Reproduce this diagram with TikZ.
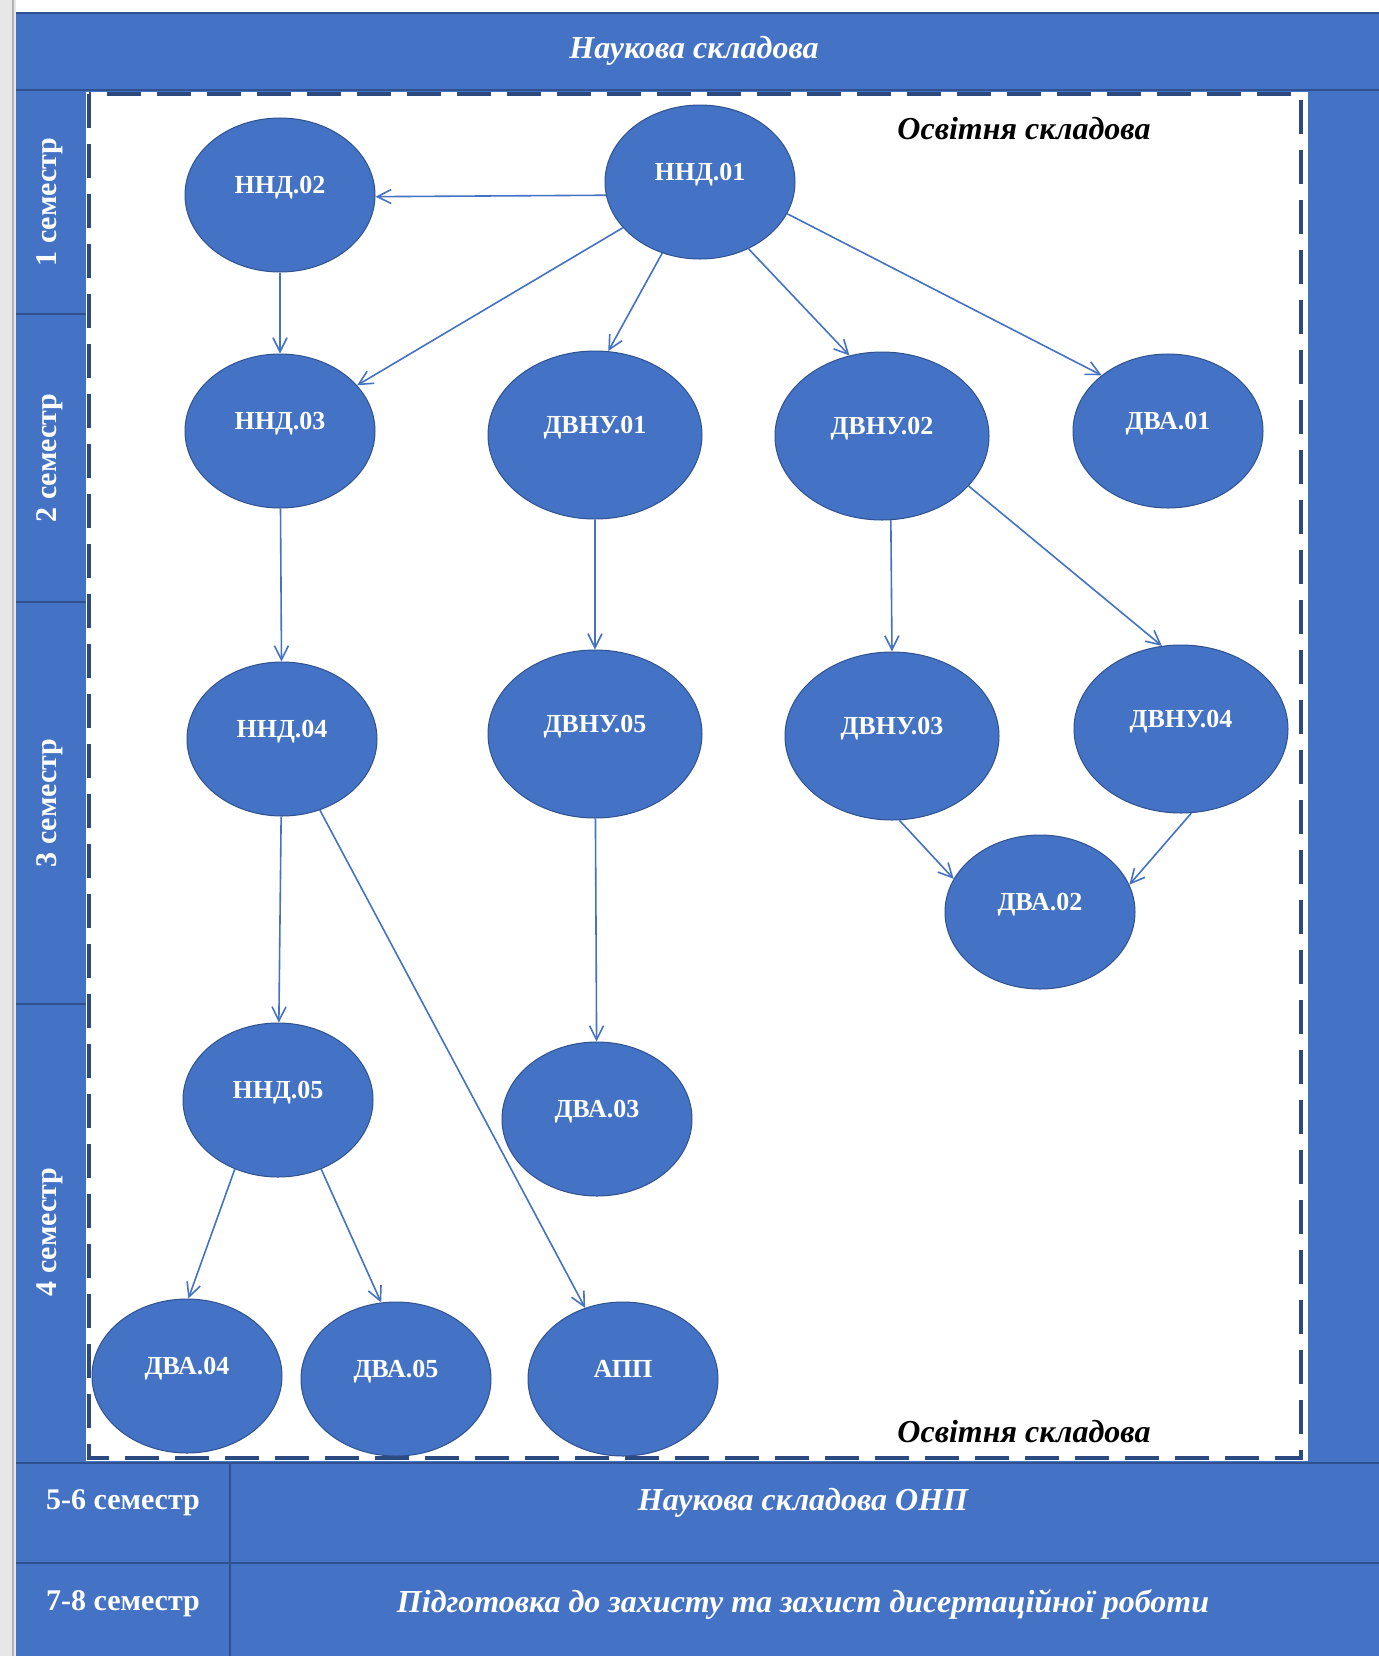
\documentclass[tikz,border=0pt]{standalone}
\usepackage{fontspec}
\setmainfont{Liberation Serif}
\usetikzlibrary{shapes.geometric,arrows.meta}
\definecolor{fillblue}{HTML}{4472C4}
\definecolor{lineblue}{HTML}{2F528F}
\definecolor{dashblue}{HTML}{2C4A80}
\definecolor{pagegray}{HTML}{E7E7E7}
\tikzset{
 subj/.style={ellipse,draw=lineblue,line width=0.5pt,fill=fillblue,text=white,
   font=\fontsize{13}{13}\selectfont\bfseries,inner sep=0pt,
   minimum width=95pt,minimum height=77pt,text height=9pt,text depth=11pt},
 subjwide/.style={subj,minimum width=107pt,minimum height=84pt},
 link/.style={draw=fillblue,line width=0.8pt,-{Straight Barb[length=7pt,width=7pt]}},
 rule/.style={draw=lineblue,line width=0.6pt},
 semlabel/.style={text=white,font=\fontsize{15}{15}\selectfont\bfseries},
 parttitle/.style={font=\fontsize{16}{16}\selectfont\bfseries\itshape}
}

\begin{document}
\begin{tikzpicture}[x=0.5pt,y=-0.5pt]
\useasboundingbox (0,0) rectangle (1379,1656);
% frame
\fill[pagegray] (0,0) rectangle (16,1656);
\draw[gray!60,line width=0.8pt] (13,0) -- (13,1656);
\fill[fillblue] (16,13) rectangle (1379,1656);
\draw[rule] (16,13) -- (1379,13);
\draw[rule] (16,90) -- (1379,90);
\foreach\yy in {314,602,1004}
 \draw[rule] (16,\yy) -- (86,\yy);
\draw[rule] (16,1463) -- (1379,1463);
\draw[rule] (16,1563) -- (1379,1563);
\draw[rule] (230,1463) -- (230,1656);
\fill[white] (86,92) rectangle (1308,1461);
\draw[dashblue,line width=1.8pt,dash pattern=on 17pt off 8pt] (89,94) rectangle (1301,1458);

% labels
\node[parttitle,text=white] (science) at (694,51) {Наукова складова};
\node[parttitle] (edutop) at (1024,129) {Освітня складова};
\node[parttitle] (edubot) at (1024,1432) {Освітня складова};
\foreach\yy/\num in {202/1,458/2,803/3,1232/4}
 \node[semlabel,rotate=90] (sem\num) at (50,\yy) {\num\ семестр};
\node[semlabel] (sem56) at (123,1503) {5-6 семестр};
\node[semlabel] (sem78) at (123,1604) {7-8 семестр};
\node[parttitle,text=white] (onp) at (803,1503) {Наукова складова ОНП};
\node[parttitle,text=white] (defence) at (803,1604) {Підготовка до захисту та захист дисертаційної роботи};

% subjects
\node[subj] (nnd01) at (700,182) {ННД.01};
\node[subj] (nnd02) at (280,195) {ННД.02};
\node[subj] (nnd03) at (280,431) {ННД.03};
\node[subjwide] (dvnu01) at (595,435) {ДВНУ.01};
\node[subjwide] (dvnu02) at (882,436) {ДВНУ.02};
\node[subj] (dva01) at (1168,431) {ДВА.01};
\node[subj] (nnd04) at (282,739) {ННД.04};
\node[subjwide] (dvnu05) at (595,734) {ДВНУ.05};
\node[subjwide] (dvnu03) at (892,736) {ДВНУ.03};
\node[subjwide] (dvnu04) at (1181,729) {ДВНУ.04};
\node[subj] (dva02) at (1040,912) {ДВА.02};
\node[subj] (nnd05) at (278,1100) {ННД.05};
\node[subj] (dva03) at (597,1119) {ДВА.03};
\node[subj] (dva04) at (187,1376) {ДВА.04};
\node[subj] (dva05) at (396,1379) {ДВА.05};
\node[subj] (app) at (623,1379) {АПП};

% links
\draw[link] (nnd01.188) -- (nnd02.-1);
\draw[link] (nnd01) -- (nnd03);
\draw[link] (nnd01.-118) -- (dvnu01.81);
\draw[link] (nnd01.-54) -- (dvnu02.112);
\draw[link] (nnd01.-20) -- (dva01.140);
\draw[link] (nnd02) -- (nnd03);
\draw[link] (nnd03) -- (nnd04);
\draw[link] (dvnu01) -- (dvnu05);
\draw[link] (dvnu02.-84) -- (dvnu03.north);
\draw[link] (dvnu02.-30) -- (dvnu04.103);
\draw[link] (dvnu03.-85) -- (dva02.159);
\draw[link] (dvnu04.-83) -- (dva02.17);
\draw[link] (nnd04) -- (nnd05);
\draw[link] (nnd04) -- (app);
\draw[link] (dvnu05) -- (dva03);
\draw[link] (nnd05.-122) -- (dva04.89);
\draw[link] (nnd05.-58) -- (dva05.101);
\end{tikzpicture}
\end{document}
